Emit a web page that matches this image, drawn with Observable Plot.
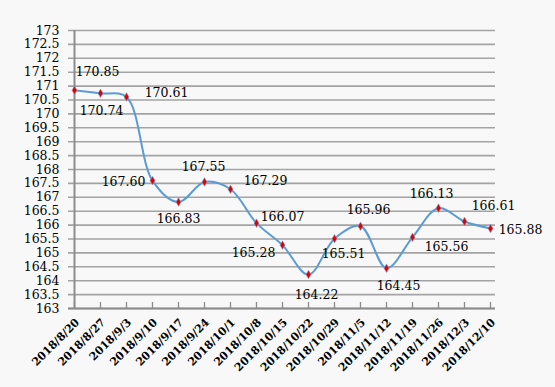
<!DOCTYPE html>
<html>
<head>
<meta charset="utf-8">
<script src="https://cdn.jsdelivr.net/npm/d3@7"></script>
<script src="https://cdn.jsdelivr.net/npm/@observablehq/plot@0.6"></script>
<style>
  html, body { margin: 0; padding: 0; background: #f8f8f8; }
  svg { display: block; }
</style>
</head>
<body>
<div id="chart"></div>
<script>
// Categories (weekly dates)
const dates = ["2018/8/20","2018/8/27","2018/9/3","2018/9/10","2018/9/17","2018/9/24","2018/10/1","2018/10/8","2018/10/15","2018/10/22","2018/10/29","2018/11/5","2018/11/12","2018/11/19","2018/11/26","2018/12/3","2018/12/10"];
// Series values
const values = [170.85,170.74,170.61,167.60,166.83,167.55,167.29,166.07,165.28,164.22,165.51,165.96,164.45,165.56,166.61,166.13,165.88];
// Data label texts as printed next to each point
const labelTexts = ["170.85","170.74","170.61","167.60","166.83","167.55","167.29","166.07","165.28","164.22","165.51","165.96","164.45","165.56","166.13","166.61","165.88"];
// Y tick values
const yTicks = d3.range(163, 173.01, 0.5);

// label offsets (styling)
const labelOffsets = [[23,-18],[1,18],[40,-4],[-29,1],[0,17],[-1,-15],[35,-8],[26,-6],[-29,8],[8,20],[9,15],[8,-16],[12,18],[34,10],[-7,-14],[29,-15],[30,2]];

const data = dates.map((d, i) => ({date: d, value: values[i], label: labelTexts[i]}));

const FONT = "DejaVu Serif";
const gridColor = "#a3a3a3";
const axisColor = "#8c8c8c";

const labelMarks = data.map((d, i) => Plot.text([d], {
  x: "date", y: "value", text: "label",
  dx: labelOffsets[i][0], dy: labelOffsets[i][1],
  fontSize: 12.5, fontFamily: FONT, fill: "#000", textAnchor: "middle"
}));

const chart = Plot.plot({
  width: 555,
  height: 387,
  marginLeft: 68,
  marginRight: 60,
  marginTop: 30,
  marginBottom: 79,
  style: {background: "#f8f8f8", color: "#000", fontFamily: FONT},
  x: {type: "point", domain: dates, padding: 0, axis: null},
  y: {domain: [163, 173], axis: null},
  marks: [
    Plot.ruleY(yTicks, {stroke: gridColor, strokeWidth: 1.6}),
    Plot.ruleY([163], {stroke: axisColor, strokeWidth: 2}),
    Plot.ruleX([dates[0]], {stroke: axisColor, strokeWidth: 2}),
    Plot.ruleX(dates, {x: d => d, y1: 163, y2: 163, insetTop: -6, stroke: axisColor, strokeWidth: 1.3}),
    Plot.axisY({ticks: yTicks, tickSize: 0, tickPadding: 9, fontSize: 12.5, fontFamily: FONT, label: null, tickFormat: d => String(d)}),
    Plot.text(dates, {x: d => d, y: 163, text: d => d, rotate: -45, textAnchor: "end", dx: 3, dy: 12, fontSize: 11, fontFamily: FONT, fontWeight: "bold", fill: "#000"}),
    Plot.line(data, {x: "date", y: "value", curve: "catmull-rom", stroke: "#5b9bd5", strokeWidth: 2}),
    Plot.dot(data, {x: "date", y: "value", symbol: "diamond", r: 2.6, fill: "#e00000", stroke: "#6fa8dc", strokeWidth: 0.6}),
    ...labelMarks
  ]
});

document.getElementById("chart").appendChild(chart);
</script>
</body>
</html>
